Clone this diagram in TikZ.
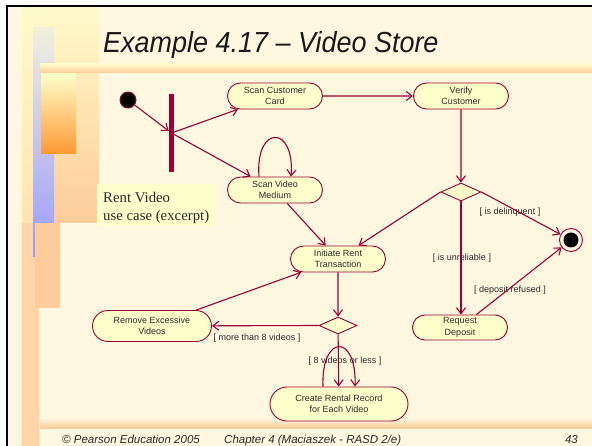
\documentclass[tikz,border=0pt]{standalone}
\usepackage{graphicx}
\usepackage{fontspec}
\setmainfont{Liberation Sans}
\newfontfamily\serifface{Liberation Serif}
\usetikzlibrary{arrows.meta,shapes.misc,shapes.geometric}

\definecolor{maroon}{HTML}{990033}
\definecolor{actfill}{HTML}{FFFFCC}
\definecolor{slidebg}{HTML}{FFF7E0}
\definecolor{txt}{HTML}{2A2A2A}
\definecolor{paleyel}{HTML}{FFFACA}
\definecolor{peach}{HTML}{FECC9A}
\definecolor{orng}{HTML}{FF9933}
\definecolor{lav}{HTML}{9999FF}
\definecolor{lavtop}{HTML}{F2F0DC}

\tikzset{
  act/.style={rounded rectangle, draw=maroon, fill=actfill, line width=0.9pt,
    minimum width=95pt, minimum height=26pt, inner sep=0pt, align=center,
    font=\fontsize{9}{11.5}\selectfont, text=txt},
  choice/.style={diamond, draw=maroon, fill=actfill, line width=0.9pt,
    inner sep=0pt, minimum width=40pt, minimum height=18pt},
  flow/.style={draw=maroon, line width=1.1pt,
    -{Straight Barb[length=6pt,width=9pt,line width=1.1pt]}},
  guard/.style={font=\fontsize{9}{11}\selectfont, text=txt, inner sep=0pt},
  footer/.style={font=\fontsize{11.5}{12}\selectfont\itshape, text=txt,
    inner sep=0pt, anchor=base west},
}

\begin{document}
\begin{tikzpicture}[x=1pt,y=-1pt]
\useasboundingbox (0,0) rectangle (592,446);

% slide background and frame
\fill[white] (0,0) rectangle (592,446);
\fill[slidebg] (7,6) rectangle (592,446);
\draw[black, line width=2pt] (7,446) -- (7,6) -- (592,6);

% decorative blocks of the slide template
\shade[top color=paleyel, bottom color=peach] (28,8) rectangle (99,223);
\shade[top color=paleyel, bottom color=peach] (22,8) rectangle (39,446);
\fill[peach!85!white] (22,223) rectangle (39,446);
\shade[top color=lavtop, bottom color=lav] (33,28) rectangle (54,257);
\shade[top color=actfill, bottom color=orng] (41,73) rectangle (76,154);
\fill[peach] (35,223) rectangle (60,308);
\shade[top color=paleyel, bottom color=peach] (40,64) rectangle (592,73);
\shade[top color=slidebg, bottom color=peach] (40,418) rectangle (592,428);

% title
\node[anchor=base west, inner sep=0pt, text=black!90,
  font=\fontsize{29}{29}\selectfont\itshape] (title) at (103,53)
  {\scalebox{0.93}[1]{Example 4.17 – Video Store}};

% caption box
\fill[actfill] (97,184) rectangle (215,226);
\node[anchor=base west, inner sep=0pt, align=left,
  font=\serifface\fontsize{14.8}{18}\selectfont, text=txt] (cap) at (103,221)
  {Rent Video\\use case (excerpt)};

% activity states
\node[act] (scc) at (275,96) {Scan Customer\\Card};
\node[act] (ver) at (461,96) {Verify\\Customer};
\node[act] (svm) at (275,190) {Scan Video\\Medium};
\node[act] (irt) at (338,259) {Initiate Rent\\Transaction};
\node[act, minimum width=119pt, minimum height=31pt] (red) at (152,326)
  {Remove Excessive\\Videos};
\node[act, minimum height=25pt] (rd) at (460,327.5) {Request\\Deposit};
\node[act, minimum width=138pt, minimum height=34pt] (crr) at (339,404)
  {Create Rental Record\\for Each Video};

% decisions
\node[choice] (d1) at (461,192) {};
\node[choice, minimum width=38pt, minimum height=17pt] (d2) at (338,325.5) {};

% initial state, fork bar, final state
\node[circle, draw=maroon, fill=black, line width=0.9pt, minimum size=16pt,
  inner sep=0pt] (init) at (128,100) {};
\node[rectangle, fill=maroon, minimum width=5pt, minimum height=78pt,
  inner sep=0pt] (fork) at (171.5,133) {};
\node[circle, draw=maroon, fill=slidebg, line width=0.9pt, minimum size=23pt,
  inner sep=0pt] (fin) at (571,240) {};
\node[circle, fill=black, minimum size=15pt, inner sep=0pt] (finc) at (fin.center) {};

% guard conditions
\node[guard] (g1) at (510,212) {[ is delinquent ]};
\node[guard] (g2) at (462,258) {[ is unreliable ]};
\node[guard] (g3) at (510,290) {[ deposit refused ]};
\node[guard] (g4) at (257,338) {[ more than 8 videos ]};
\node[guard] (g5) at (345,361) {[ 8 videos or less ]};

% transitions
\draw[flow] (init) -- (fork);
\draw[flow] (fork) -- (scc);
\draw[flow] (fork) -- (svm);
\draw[flow] ([xshift=-16pt]svm.north) .. controls +(-4,-52) and +(4,-52) .. ([xshift=16pt]svm.north);
\draw[flow] (scc) -- (ver);
\draw[flow] (ver) -- (d1);
\draw[flow] (d1.west) -- (irt);
\draw[flow] (svm) -- (irt);
\draw[flow] (d1.south) -- (rd.north -| d1.south);
\draw[flow] (d1.east) -- (fin);
\draw[flow] (rd) -- (fin);
\draw[flow] (irt) -- (d2);
\draw[flow] (d2.west) -- (red);
\draw[flow] (red) -- (irt);
\draw[flow] (d2) -- (crr);
\draw[flow] ([xshift=-16pt]crr.north) .. controls +(-2,-53) and +(2,-53) .. ([xshift=16pt]crr.north);

% footer
\node[footer] (f1) at (62,443) {© Pearson Education 2005};
\node[footer] (f2) at (224,443) {Chapter 4 (Maciaszek - RASD 2/e)};
\node[footer, anchor=base east] (f3) at (578,443) {43};
\end{tikzpicture}
\end{document}
